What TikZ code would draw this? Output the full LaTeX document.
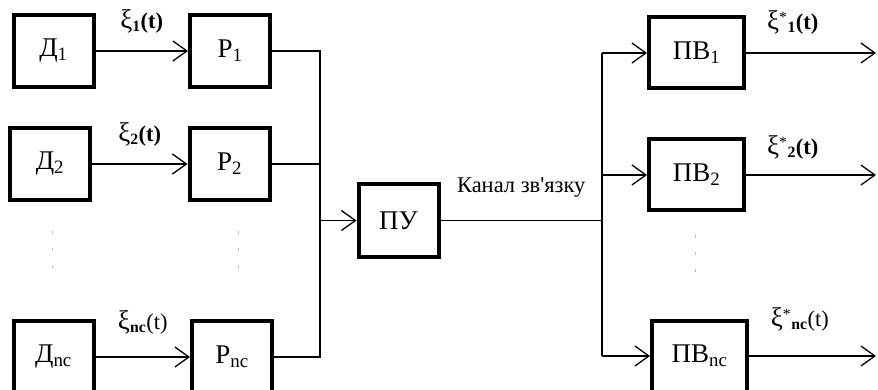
\documentclass[tikz,border=0pt]{standalone}
\usepackage{fontspec}
\setmainfont{Liberation Serif}[Ligatures=TeXOff]
\usepackage{tikz}
\usetikzlibrary{
    positioning,
    calc,
    arrows.meta
}
\tikzset{
  block/.style = {
      draw,
      line width=4pt,
      minimum width=80pt,
      minimum height=72pt,
      inner sep=0pt,
      font=\fontsize{27}{29}\selectfont
  },
  wide block/.style = {
      block,
      minimum width=95pt,
      minimum height=71pt
  },
  edge/.style = {
      line width=1.3pt
  },
  arrow/.style = {
      edge,
      -{Straight Barb[length=14pt,width=20pt,line width=1.3pt]}
  },
  sig/.style = {
      font=\fontsize{22.5}{24}\selectfont,
      inner sep=0pt
  },
  dots/.style = {
      draw=gray!50,
      line width=0.7pt,
      dash pattern=on 3pt off 14pt
  }
}
\newcommand{\bsub}[1]{\textsubscript{\bfseries #1}}
\newcommand{\xisym}{{\fontsize{27}{27}\selectfont ξ}}

\begin{document}
\begin{tikzpicture}[x=1pt, y=-1pt]
    \useasboundingbox (0,0) rectangle (878,390);
    % Blocks
    \node[block] (D1) at (53.5,51) {Д\textsubscript{1}};
    \node[block] (P1) at (230,51) {Р\textsubscript{1}};
    \node[block] (D2) at (50,164) {Д\textsubscript{2}};
    \node[block] (P2) at (229.5,164) {Р\textsubscript{2}};
    \node[block] (Dnc) at (53.5,357) {Д\textsubscript{nc}};
    \node[block] (Pnc) at (232,357) {Р\textsubscript{nc}};
    \node[block] (PU) at (398.5,220.5) {ПУ};
    \node[wide block] (PV1) at (696.5,53) {ПВ\textsubscript{1}};
    \node[wide block] (PV2) at (696.5,175) {ПВ\textsubscript{2}};
    \node[wide block] (PVnc) at (699.5,356) {ПВ\textsubscript{nc}};
    \coordinate (busL) at (320,220.5);
    \coordinate (busR) at (602,220.5);
    \coordinate (outR) at (876,0);
    % Edges
    \draw[arrow] (D1) -- node[sig, above=17pt] {\xisym\bsub{1}\textbf{(t)}} (P1);
    \draw[arrow] (D2) -- node[sig, above=17pt] {\xisym\bsub{2}\textbf{(t)}} (P2);
    \draw[arrow] (Dnc) -- node[sig, above=22pt] {\xisym\bsub{nc}(t)} (Pnc);
    \draw[edge] (P1.east) -- (P1.east -| busL) -- (Pnc.east -| busL) -- (Pnc.east);
    \draw[edge] (P2.east) -- (P2.east -| busL);
    \draw[arrow] (busL) -- (PU);
    \draw[edge] (PU) -- node[sig, above=22pt] {Канал зв'язку} (busR);
    \draw[edge] (PV1.west -| busR) -- (PVnc.west -| busR);
    \draw[arrow] (PV1.west -| busR) -- (PV1);
    \draw[arrow] (PV2.west -| busR) -- (PV2);
    \draw[arrow] (PVnc.west -| busR) -- (PVnc);
    \draw[arrow] (PV1) -- node[sig, above=18pt, pos=0.36] {\xisym\textsuperscript{*}\bsub{1}\textbf{(t)}} (PV1.east -| outR);
    \draw[arrow] (PV2) -- node[sig, above=15pt, pos=0.36] {\xisym\textsuperscript{*}\bsub{2}\textbf{(t)}} (PV2.east -| outR);
    \draw[arrow] (PVnc) -- node[sig, above=24pt, pos=0.4] {\xisym\textsuperscript{*}\bsub{nc}(t)} (PVnc.east -| outR);
    % Dots
    \draw[dots] (52,231) -- (52,272);
    \draw[dots] (238,231) -- (238,272);
    \draw[dots] (695,235) -- (695,276);
\end{tikzpicture}
\end{document}
